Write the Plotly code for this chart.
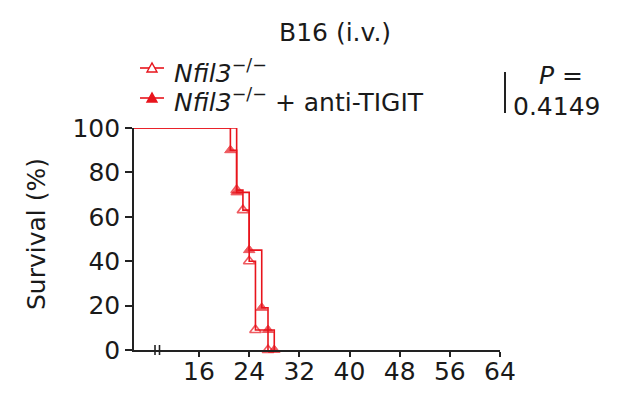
import plotly.graph_objects as go

# Data
days_ko = [0, 22, 23, 24, 25, 27]
surv_ko = [100, 72, 63, 40, 9, 0]
days_tigit = [0, 21, 22, 24, 26, 27, 28]
surv_tigit = [100, 90, 71, 45, 19, 9, 0]
x_ticks = [16, 24, 32, 40, 48, 56, 64]
y_ticks = [0, 20, 40, 60, 80, 100]
name_ko = "<i>Nfil3</i><sup>−/−</sup>"
name_tigit = "<i>Nfil3</i><sup>−/−</sup> + anti-TIGIT"
p_label = "<i>P</i> ="
p_value = "0.4149"
title = "B16 (i.v.)"
y_title = "Survival (%)"

RED = "#e8141c"
FONT = "DejaVu Sans, Verdana, sans-serif"
FS = 25
TXT = "#1a1a1a"

# plot-area geometry in pixels (for placing decorations in paper coords)
L, R, T, B = 134, 500, 128, 350
W, H = R - L, B - T
def px(x):
    return (x - L) / W
def py(y):
    return (B - y) / H

fig = go.Figure()

def sizes(n):
    return [0] + [10] * (n - 1)

fig.add_trace(go.Scatter(
    x=days_ko, y=surv_ko, mode="lines+markers", line=dict(shape="hv", color=RED, width=1.6),
    marker=dict(symbol="triangle-up-open", size=sizes(len(days_ko)), color=RED, line=dict(width=1.6, color=RED)),
    cliponaxis=False, showlegend=False, name=name_ko))
fig.add_trace(go.Scatter(
    x=days_tigit, y=surv_tigit, mode="lines+markers", line=dict(shape="hv", color=RED, width=1.6),
    marker=dict(symbol="triangle-up", size=sizes(len(days_tigit)), color=RED, line=dict(width=1, color=RED)),
    cliponaxis=False, showlegend=False, name=name_tigit))

# manual legend
legend_rows = [(68, name_ko, False), (98, name_tigit, True)]
for ry, label, filled in legend_rows:
    fig.add_shape(type="line", xref="paper", yref="paper", x0=px(140), x1=px(164), y0=py(ry), y1=py(ry),
                  line=dict(color=RED, width=1.6))
    fig.add_shape(type="path", xref="paper", yref="paper", xsizemode="pixel", ysizemode="pixel",
                  xanchor=px(152), yanchor=py(ry), path="M-5,-4 L5,-4 L0,5 Z",
                  fillcolor=RED if filled else "white", line=dict(color=RED, width=1.4))
    fig.add_annotation(text=label, xref="paper", yref="paper", x=px(172), y=py(ry + 3),
                       showarrow=False, font=dict(size=FS, color=TXT, family=FONT),
                       xanchor="left", yanchor="middle")

# axis break marks
for bx in (155, 159.5):
    fig.add_shape(type="line", xref="paper", yref="paper", x0=px(bx), x1=px(bx),
                  y0=py(355), y1=py(345), line=dict(color="#222", width=1.6))

# P-value bracket and label
fig.add_shape(type="line", xref="paper", yref="paper", x0=px(505), x1=px(505), y0=py(113), y1=py(72),
              line=dict(color="#222", width=2))
fig.add_annotation(text=p_label, xref="paper", yref="paper", x=px(561), y=py(91),
                   showarrow=False, font=dict(size=FS, color=TXT, family=FONT), xanchor="center", yanchor="bottom",
                   borderpad=0)
fig.add_annotation(text=p_value, xref="paper", yref="paper", x=px(512), y=py(91),
                   showarrow=False, font=dict(size=FS, color=TXT, family=FONT), xanchor="left", yanchor="top",
                   borderpad=0)
fig.add_annotation(text=title, xref="paper", yref="paper", x=px(335), y=py(33),
                   showarrow=False, font=dict(size=FS, color=TXT, family=FONT), xanchor="center", yanchor="middle")
fig.add_annotation(text=y_title, xref="paper", yref="paper", x=px(36), y=py(234),
                   showarrow=False, textangle=-90, font=dict(size=FS, color=TXT, family=FONT),
                   xanchor="center", yanchor="middle")

fig.update_layout(
    width=640, height=395,
    margin=dict(l=L, r=640 - R, t=T, b=395 - B),
    paper_bgcolor="white", plot_bgcolor="white",
    font=dict(family=FONT, size=FS, color=TXT),
    showlegend=False,
    xaxis=dict(range=[5.63, 64], tickvals=x_ticks, showgrid=False, zeroline=False, automargin=False,
               showline=True, linecolor="#222", linewidth=1.6, ticks="outside", ticklen=5,
               tickwidth=1.6, tickcolor="#222", ticklabelstandoff=-7,
               tickfont=dict(size=FS, color=TXT, family=FONT)),
    yaxis=dict(range=[0, 100], tickvals=y_ticks, showgrid=False, zeroline=False, automargin=False,
               showline=True, linecolor="#222", linewidth=1.6, ticks="outside", ticklen=7,
               tickwidth=1.6, tickcolor="#222", tickfont=dict(size=FS, color=TXT, family=FONT)),
)

fig.write_html("out.html")
